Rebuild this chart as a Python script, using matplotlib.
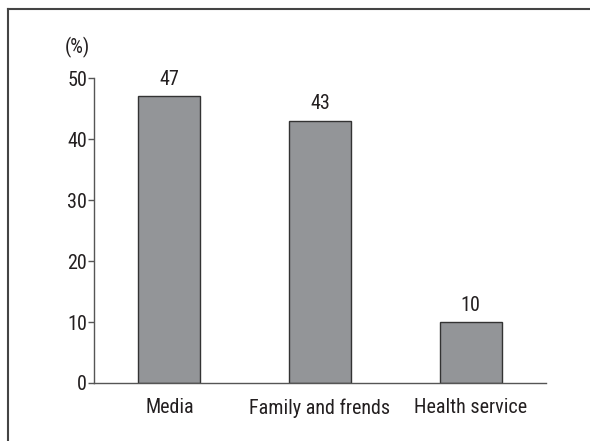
import matplotlib.pyplot as plt
from matplotlib.lines import Line2D

categories = ['Media', 'Family and frends', 'Health service']
values = [47, 43, 10]
y_ticks = [0, 10, 20, 30, 40, 50]

plt.rcParams['font.family'] = ['Roboto Condensed', 'Liberation Sans Narrow', 'Noto Sans', 'DejaVu Sans']
plt.rcParams['font.stretch'] = 'condensed'
FS = 14.5

fig = plt.figure(figsize=(5.9, 4.41), dpi=100)
ax = fig.add_axes([94 / 590, 1 - 383 / 441, (546 - 94) / 590, (383 - 78) / 441])

x = range(len(categories))
bars = ax.bar(x, values, width=0.41, color='#939598', edgecolor='#333333', linewidth=1.0)
for b, v in zip(bars, values):
    ax.text(b.get_x() + b.get_width() / 2, v + 1.2, str(v), ha='center', va='bottom',
            fontsize=FS, color='#231f20')

ax.set_xlim(-0.5, 2.5)
ax.set_ylim(0, 50)
ax.set_yticks(y_ticks)
ax.set_xticks(list(x))
ax.set_xticklabels(categories)
ax.tick_params(axis='y', direction='out', length=4, width=1, color='#555555',
               labelsize=FS, labelcolor='#231f20', pad=1)
ax.tick_params(axis='x', length=0, labelsize=FS, labelcolor='#231f20', pad=11)
for s in ['top', 'right']:
    ax.spines[s].set_visible(False)
for s in ['left', 'bottom']:
    ax.spines[s].set_color('#555555')
    ax.spines[s].set_linewidth(1.0)

fig.text(77 / 590, 1 - 47 / 441, '(%)', ha='center', va='center', fontsize=FS, color='#231f20')

# partial frame round the figure
fig.add_artist(Line2D([8 / 590, 8 / 590], [0, 1 - 9 / 441], color='#444444', lw=1.5))
fig.add_artist(Line2D([8 / 590, 1], [1 - 9 / 441, 1 - 9 / 441], color='#444444', lw=1.5))

fig.savefig('out.png', dpi=100)
